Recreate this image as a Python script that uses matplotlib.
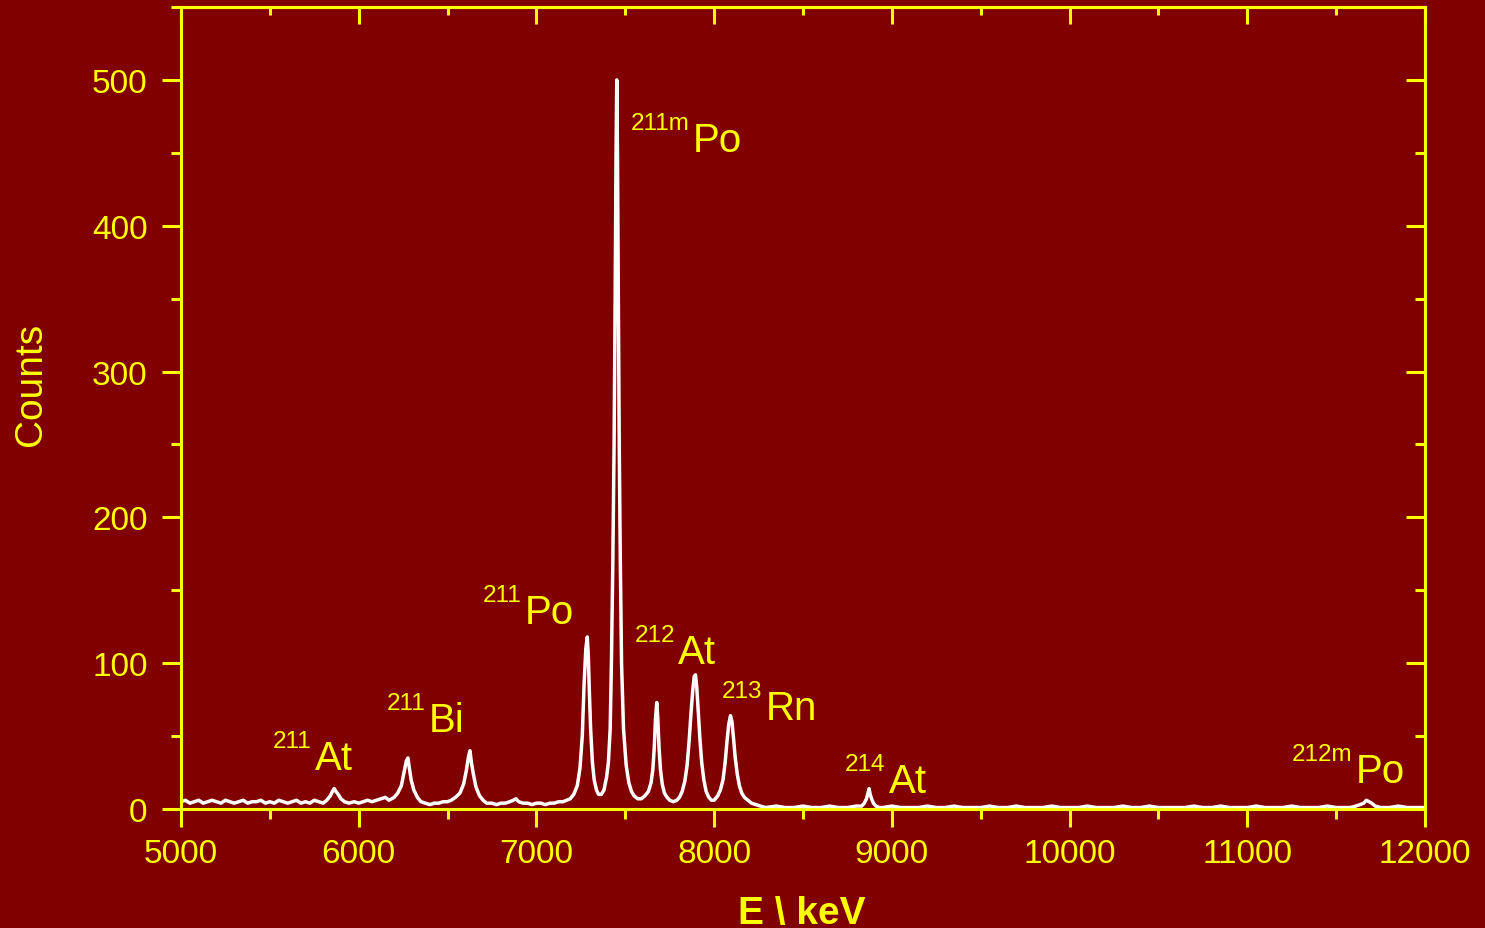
import matplotlib
matplotlib.use("Agg")
import matplotlib.pyplot as plt
from matplotlib import font_manager
from matplotlib.ticker import MultipleLocator

# alpha spectrum (keV, counts)
energy_kev = [
    5000, 5025, 5050, 5075, 5100, 5125, 5150, 5175, 5200, 5225,
    5250, 5275, 5300, 5325, 5350, 5375, 5400, 5425, 5450, 5475,
    5500, 5525, 5550, 5575, 5600, 5625, 5650, 5675, 5700, 5725,
    5750, 5775, 5800, 5820, 5840, 5852, 5862, 5872, 5885, 5900,
    5920, 5945, 5975, 6000, 6025, 6050, 6075, 6100, 6125, 6150,
    6170, 6185, 6200, 6220, 6240, 6255, 6268, 6277, 6285, 6295,
    6310, 6330, 6350, 6375, 6400, 6425, 6450, 6475, 6500, 6520,
    6545, 6570, 6590, 6605, 6618, 6626, 6634, 6645, 6660, 6680,
    6700, 6720, 6750, 6775, 6800, 6825, 6850, 6870, 6885, 6900,
    6925, 6950, 6975, 7000, 7025, 7050, 7075, 7100, 7125, 7150,
    7170, 7190, 7210, 7230, 7245, 7258, 7268, 7278, 7286, 7292,
    7298, 7305, 7315, 7325, 7338, 7350, 7365, 7380, 7395, 7405,
    7415, 7422, 7430, 7437, 7443, 7448, 7452, 7456, 7461, 7466,
    7472, 7479, 7490, 7505, 7520, 7535, 7550, 7570, 7590, 7610,
    7630, 7645, 7655, 7663, 7670, 7677, 7683, 7690, 7698, 7708,
    7720, 7735, 7750, 7770, 7790, 7805, 7820, 7835, 7848, 7860,
    7870, 7880, 7888, 7895, 7902, 7910, 7920, 7930, 7942, 7955,
    7970, 7985, 8000, 8020, 8035, 8050, 8062, 8072, 8082, 8092,
    8100, 8108, 8118, 8130, 8142, 8155, 8170, 8190, 8210, 8235,
    8260, 8290, 8350, 8400, 8450, 8500, 8550, 8600, 8650, 8700,
    8750, 8800, 8830, 8845, 8857, 8866, 8872, 8878, 8886, 8896,
    8910, 8930, 8950, 9000, 9050, 9100, 9150, 9200, 9250, 9300,
    9350, 9400, 9450, 9500, 9550, 9600, 9650, 9700, 9750, 9800,
    9850, 9900, 9950, 10000, 10050, 10100, 10150, 10200, 10250, 10300,
    10350, 10400, 10450, 10500, 10550, 10600, 10650, 10700, 10750, 10800,
    10850, 10900, 10950, 11000, 11050, 11100, 11150, 11200, 11250, 11300,
    11350, 11400, 11450, 11500, 11550, 11580, 11610, 11635, 11655, 11670,
    11685, 11700, 11720, 11750, 11800, 11850, 11900, 11950, 12000,
]
counts = [
    5, 6, 4, 5, 6, 4, 5, 6, 5, 4,
    6, 5, 4, 5, 6, 4, 5, 5, 6, 4,
    5, 4, 6, 5, 4, 5, 6, 4, 5, 4,
    6, 5, 4, 6, 9, 12, 14, 12, 10, 7,
    5, 4, 5, 4, 5, 6, 5, 6, 7, 8,
    6, 7, 8, 11, 16, 25, 33, 35, 28, 20,
    13, 8, 5, 4, 3, 4, 4, 5, 5, 6,
    8, 11, 17, 26, 36, 40, 32, 24, 15, 9,
    6, 4, 4, 3, 4, 4, 5, 6, 7, 5,
    4, 4, 3, 4, 4, 3, 4, 4, 5, 5,
    6, 7, 10, 16, 28, 50, 85, 110, 118, 105,
    80, 55, 32, 20, 13, 10, 10, 13, 22, 32,
    55, 100, 170, 250, 350, 450, 500, 450, 350, 250,
    170, 100, 55, 30, 18, 12, 9, 7, 7, 9,
    12, 18, 27, 42, 62, 73, 62, 42, 27, 17,
    11, 8, 6, 5, 6, 8, 12, 19, 30, 48,
    66, 82, 91, 92, 84, 68, 48, 32, 20, 12,
    8, 6, 6, 9, 13, 20, 32, 46, 58, 64,
    60, 50, 36, 24, 16, 11, 8, 6, 4, 3,
    2, 1, 2, 1, 1, 2, 1, 1, 2, 1,
    1, 2, 2, 4, 7, 11, 14, 10, 7, 4,
    2, 1, 1, 2, 1, 1, 1, 2, 1, 1,
    2, 1, 1, 1, 2, 1, 1, 2, 1, 1,
    1, 2, 1, 1, 1, 2, 1, 1, 1, 2,
    1, 1, 2, 1, 1, 1, 1, 2, 1, 1,
    2, 1, 1, 1, 2, 1, 1, 1, 2, 1,
    1, 1, 2, 1, 1, 1, 2, 3, 4, 6,
    5, 4, 2, 1, 1, 2, 1, 1, 1,
]

x_ticks = [5000, 6000, 7000, 8000, 9000, 10000, 11000, 12000]
x_tick_labels = ["5000", "6000", "7000", "8000", "9000", "10000", "11000", "12000"]
y_ticks = [0, 100, 200, 300, 400, 500]
y_tick_labels = ["0", "100", "200", "300", "400", "500"]

# isotope labels: mass number, element, and where the element text starts
label_mass = ["211", "211", "211", "211m", "212", "213", "214", "212m"]
label_element = ["At", "Bi", "Po", "Po", "At", "Rn", "At", "Po"]
label_x = [5743, 6384, 6925, 7870, 7791, 8281, 8973, 11601]
label_y = [27.4, 53.5, 127.6, 451.3, 100.1, 61.7, 11.7, 18.5]

BG = "#800000"
YELLOW = "#ffff00"

names = {f.name for f in font_manager.fontManager.ttflist}
SANS = "Liberation Sans" if "Liberation Sans" in names else "DejaVu Sans"

fig = plt.figure(figsize=(14.85, 9.29), dpi=100, facecolor=BG)
ax = fig.add_axes([181 / 1485, 1 - 810 / 929, (1425 - 181) / 1485, (810 - 8) / 929])
ax.set_facecolor(BG)

ax.plot(energy_kev, counts, color="white", lw=2.5)
ax.set_xlim(5000, 12000)
ax.set_ylim(0, 550)

for s in ax.spines.values():
    s.set_color(YELLOW)
    s.set_linewidth(2.2)

ax.set_xticks(x_ticks, x_tick_labels, fontfamily=SANS, fontsize=24, color=YELLOW)
ax.set_yticks(y_ticks, y_tick_labels, fontfamily=SANS, fontsize=24, color=YELLOW)
ax.xaxis.set_minor_locator(MultipleLocator(500))
ax.yaxis.set_minor_locator(MultipleLocator(50))
ax.tick_params(axis="x", which="major", direction="out", length=13, width=2.2, color=YELLOW, pad=8)
ax.tick_params(axis="x", which="minor", direction="out", length=7, width=2.2, color=YELLOW)
ax.tick_params(axis="y", which="major", direction="out", length=14, width=2.2, color=YELLOW, pad=10)
ax.tick_params(axis="y", which="minor", direction="out", length=7, width=2.2, color=YELLOW)

# inward ticks on top and right
top = ax.secondary_xaxis("top")
top.set_xticks(x_ticks)
top.xaxis.set_minor_locator(MultipleLocator(500))
top.tick_params(which="major", direction="in", length=12, width=2.2, color=YELLOW, labeltop=False)
top.tick_params(which="minor", direction="in", length=6, width=2.2, color=YELLOW)
top.spines["top"].set_color(YELLOW)
top.spines["top"].set_linewidth(2.2)
right = ax.secondary_yaxis("right")
right.set_yticks(y_ticks)
right.yaxis.set_minor_locator(MultipleLocator(50))
right.tick_params(which="major", direction="in", length=14, width=2.2, color=YELLOW, labelright=False)
right.tick_params(which="minor", direction="in", length=7, width=2.2, color=YELLOW)
right.spines["right"].set_color(YELLOW)
right.spines["right"].set_linewidth(2.2)

for mass, elem, x, y in zip(label_mass, label_element, label_x, label_y):
    ax.annotate(mass, (x, y), xytext=(-1, 16), textcoords="offset points",
                ha="right", va="baseline", color=YELLOW, fontsize=17.5, family=SANS)
    ax.annotate(elem, (x, y), xytext=(1, 0), textcoords="offset points",
                ha="left", va="baseline", color=YELLOW, fontsize=29, family=SANS)

fig.text(31 / 1485, 1 - 384 / 929, "Counts", rotation=90, ha="center", va="center",
         color=YELLOW, fontsize=28, family=SANS)
fig.text(802 / 1485, 1 - 896 / 929, "E \\ keV", ha="center", va="top",
         color=YELLOW, fontsize=28, fontweight="bold", family=SANS)

fig.savefig("out.png", dpi=100, facecolor=BG)
